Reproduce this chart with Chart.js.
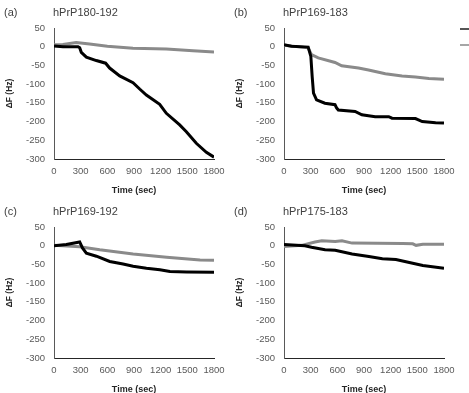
<!DOCTYPE html>
<html>
<head>
<meta charset="utf-8">
<script src="https://cdn.jsdelivr.net/npm/chart.js@4/dist/chart.umd.min.js"></script>
<style>
  html, body { margin: 0; padding: 0; background: #fff; overflow: hidden; }
  body { width: 469px; height: 393px; position: relative; }
  canvas { position: absolute; }
</style>
</head>
<body>
<canvas id="grA" width="235" height="196" style="left:0px;top:0px"></canvas>
<canvas id="grB" width="239" height="196" style="left:230px;top:0px"></canvas>
<canvas id="grC" width="235" height="196" style="left:0px;top:199px"></canvas>
<canvas id="grD" width="235" height="196" style="left:230px;top:199px"></canvas>
<script>
// etiquetas
const letras = ['(a)', '(b)', '(c)', '(d)'];
const nombres = ['hPrP180-192', 'hPrP169-183', 'hPrP169-192', 'hPrP175-183'];
const serieNombres = ['Serie 1', 'Serie 2'];
const ticksX = [0, 300, 600, 900, 1200, 1500, 1800];
const ticksY = [50, 0, -50, -100, -150, -200, -250, -300];

// (a) hPrP180-192
const tNegroA = [0, 101, 270, 289, 307, 364, 476, 581, 626, 739, 889, 964, 1039, 1189, 1264, 1414, 1489, 1601, 1714, 1800];
const negroA  = [2, 0, 0, -3, -15, -28, -37, -44, -57, -78, -96, -113, -129, -154, -178, -209, -227, -258, -282, -295];
const tGrisA  = [0, 100, 250, 400, 600, 889, 1264, 1564, 1800];
const grisA   = [5, 6, 11, 7, 1, -4, -6, -11, -14];

// (b) hPrP169-183
const tNegroB = [0, 83, 272, 302, 317, 332, 366, 460, 574, 593, 611, 800, 876, 1026, 1178, 1215, 1479, 1555, 1706, 1800];
const negroB  = [5, 1, -1, -26, -80, -124, -142, -151, -155, -164, -169, -173, -182, -187, -187, -191, -192, -200, -203, -204];
const tGrisB  = [0, 272, 309, 385, 574, 649, 838, 951, 1140, 1328, 1479, 1630, 1800];
const grisB   = [4, -3, -21, -30, -42, -51, -57, -62, -72, -78, -81, -85, -87];

// (c) hPrP169-192
const tNegroC = [0, 139, 289, 320, 364, 477, 627, 777, 890, 1040, 1191, 1304, 1492, 1800];
const negroC  = [0, 3, 10, -6, -20, -28, -42, -49, -55, -60, -64, -69, -70, -71];
const tGrisC  = [0, 289, 515, 890, 1267, 1643, 1800];
const grisC   = [1, -3, -11, -22, -31, -38, -39];

// (d) hPrP175-183
const tNegroD = [0, 235, 310, 462, 576, 766, 955, 1107, 1259, 1410, 1562, 1800];
const negroD  = [3, 0, -4, -11, -12, -22, -29, -35, -37, -45, -53, -60];
const tGrisD  = [0, 198, 349, 425, 576, 652, 766, 1334, 1448, 1486, 1562, 1800];
const grisD   = [-2, 1, 10, 13, 11, 13, 7, 6, 5, 1, 4, 4];

const FUENTE = '"Liberation Sans", Arial, sans-serif';
const NEGRO = '#000000';
const GRIS = '#8a8a8a';

function puntos(t, v) {
    return t.map((x, i) => ({ x: x, y: v[i] }));
}

// letra y nombre del panel, y leyenda (solo en b)
const textosPanel = {
    id: 'textosPanel',
    afterDraw(chart, args, opts) {
        const ctx = chart.ctx;
        const area = chart.chartArea;
        ctx.save();
        ctx.fillStyle = '#404040';
        ctx.font = '11px ' + FUENTE;
        ctx.textBaseline = 'middle';
        ctx.textAlign = 'left';
        ctx.fillText(opts.letra, area.left - 50, area.top - 15);
        ctx.fillText(opts.nombre, area.left - 1, area.top - 15);
        ctx.restore();

        if (opts.leyenda) {
            ctx.save();
            chart.data.datasets.forEach((ds, i) => {
                const y = area.top + 1 + i * 16;
                ctx.strokeStyle = i === 0 ? '#555555' : '#a6a6a6';
                ctx.lineWidth = 2;
                ctx.beginPath();
                ctx.moveTo(area.right + 16, y);
                ctx.lineTo(area.right + 32, y);
                ctx.stroke();
            });
            ctx.restore();
        }
    }
};

function crearGrafico(id, indice, tN, vN, tG, vG, leyenda) {
    const canvas = document.getElementById(id);
    const ancho = canvas.width;
    const alto = canvas.height;
    return new Chart(canvas.getContext('2d'), {
        type: 'line',
        data: {
            datasets: [
                {
                    label: serieNombres[0],
                    data: puntos(tN, vN),
                    borderColor: NEGRO,
                    borderWidth: 3,
                    pointRadius: 0,
                    fill: false,
                    order: 1
                },
                {
                    label: serieNombres[1],
                    data: puntos(tG, vG),
                    borderColor: GRIS,
                    borderWidth: 3,
                    pointRadius: 0,
                    fill: false,
                    order: 2
                }
            ]
        },
        options: {
            responsive: false,
            animation: false,
            layout: {
                padding: { left: 0, right: ancho - 214, top: 28, bottom: 0 }
            },
            plugins: {
                legend: { display: false },
                tooltip: { enabled: false },
                textosPanel: { letra: letras[indice], nombre: nombres[indice], leyenda: leyenda }
            },
            scales: {
                x: {
                    type: 'linear',
                    min: 0,
                    max: 1800,
                    afterBuildTicks: s => { s.ticks = ticksX.map(v => ({ value: v })); },
                    afterFit: s => { s.height = alto - 159; },
                    grid: { display: false, drawTicks: false },
                    border: { display: true, color: '#262626', width: 1 },
                    ticks: {
                        padding: 7,
                        color: '#595959',
                        font: { family: FUENTE, size: 9.5 },
                        maxRotation: 0,
                        callback: v => String(v)
                    },
                    title: {
                        display: true,
                        text: 'Time (sec)',
                        color: '#262626',
                        font: { family: FUENTE, size: 9, weight: 'bold' },
                        padding: { top: 0, bottom: 0 }
                    }
                },
                y: {
                    min: -300,
                    max: 50,
                    afterBuildTicks: s => { s.ticks = ticksY.map(v => ({ value: v })); },
                    afterFit: s => { s.width = 54; },
                    grid: { display: false, drawTicks: false },
                    border: { display: true, color: '#595959', width: 1 },
                    ticks: {
                        padding: 9,
                        color: '#595959',
                        font: { family: FUENTE, size: 9.5 },
                        callback: v => String(v)
                    },
                    title: {
                        display: true,
                        text: 'ΔF (Hz)',
                        color: '#262626',
                        font: { family: FUENTE, size: 8.5, weight: 'bold' },
                        padding: { top: 5, bottom: 0 }
                    }
                }
            }
        },
        plugins: [textosPanel]
    });
}

crearGrafico('grA', 0, tNegroA, negroA, tGrisA, grisA, false);
crearGrafico('grB', 1, tNegroB, negroB, tGrisB, grisB, true);
crearGrafico('grC', 2, tNegroC, negroC, tGrisC, grisC, false);
crearGrafico('grD', 3, tNegroD, negroD, tGrisD, grisD, false);
</script>
</body>
</html>
